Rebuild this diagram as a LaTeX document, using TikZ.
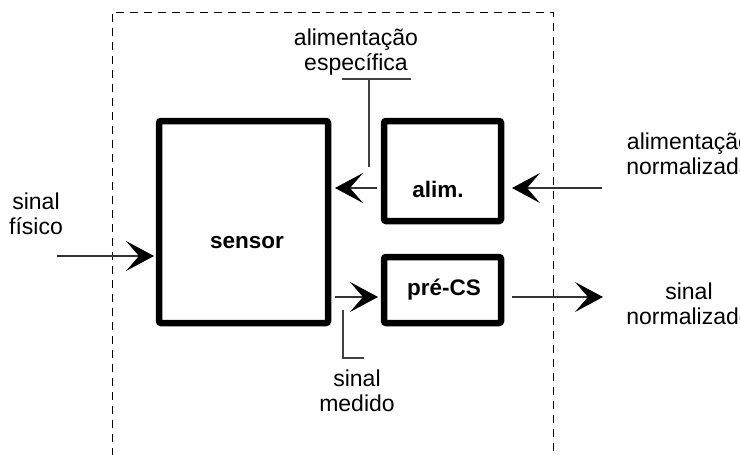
\documentclass[tikz,border=0pt]{standalone}
\usepackage{fontspec}
\setmainfont{Liberation Sans}
\usetikzlibrary{arrows.meta}
\begin{document}
\begin{tikzpicture}[x=1pt,y=-1pt,
  box/.style={draw,line width=6.5pt,rounded corners=2pt},
  lbl/.style={font=\fontsize{23}{25.5}\selectfont,align=center,inner sep=0pt},
  blbl/.style={font=\fontsize{22.5}{25}\selectfont\bfseries,inner sep=0pt},
  conn/.style={line width=1.1pt,draw=black!80,-{Stealth[length=28pt,width=30pt,inset=13pt,color=black,fill=black]}},
  leader/.style={line width=1.1pt,draw=black!75},
  frame/.style={line width=1pt,dash pattern=on 8pt off 6pt}]
\useasboundingbox (0,0) rectangle (740,455);
\clip (0,0) rectangle (740,455);
\fill[white] (0,0) rectangle (740,455);
% dashed frame
\draw[frame] (112,470) -- (112,12) -- (553,12) -- (553,470);
% boxes
\draw[box] (159,121) rectangle (328,323);
\draw[box] (384,121) rectangle (501,221);
\draw[box] (384,257) rectangle (501,323);
\node[blbl] (sensor) at (247,243) {sensor};
\node[blbl] (alim) at (438,189) {alim.};
\node[blbl] (precs) at (444,290) {pré-CS};
% anchor coordinates
\coordinate (sensorW) at (154,256);
\coordinate (sensorE) at (335,188);
\coordinate (sensorE2) at (335,297);
\coordinate (alimW) at (377,188);
\coordinate (alimE) at (512,188);
\coordinate (precsW) at (378,297);
\coordinate (precsE) at (512,297);
\coordinate (inS) at (57,256);
\coordinate (inA) at (602,188);
\coordinate (outS) at (603,297);
% connectors
\draw[conn] (inS) -- (sensorW);
\draw[conn] (alimW) -- (sensorE);
\draw[conn] (inA) -- (alimE);
\draw[conn] (sensorE2) -- (precsW);
\draw[conn] (precsE) -- (outS);
% leaders
\coordinate (la1) at (342,79);
\coordinate (la2) at (411,79);
\coordinate (la3) at (369,79);
\coordinate (la4) at (369,167);
\draw[leader] (la1) -- (la2);
\draw[leader] (la3) -- (la4);
\coordinate (lm1) at (343,310);
\coordinate (lm2) at (343,358);
\coordinate (lm3) at (364,358);
\draw[leader] (lm1) -- (lm2) -- (lm3);
% labels
\node[lbl] (tesp) at (356,52) {alimentação\\específica};
\node[lbl] (tmed) at (357,391) {sinal\\medido};
\node[lbl] (tfis) at (36,214) {sinal\\físico};
\node[lbl] (tan) at (689,154) {alimentação\\normalizada};
\node[lbl] (tsn) at (689,304) {sinal\\normalizado};
\end{tikzpicture}
\end{document}
